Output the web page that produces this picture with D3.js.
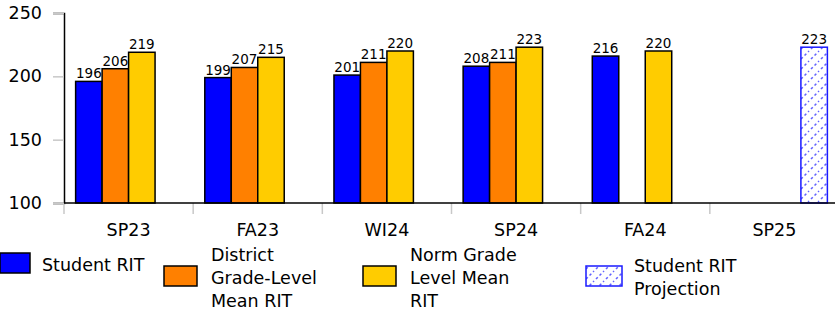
<!DOCTYPE html>
<html>
<head>
<meta charset="utf-8">
<script src="https://cdn.jsdelivr.net/npm/d3@7"></script>
<style>
  body { margin: 0; background: #fff; }
  text { font-family: "DejaVu Sans", sans-serif; fill: #000; }
</style>
</head>
<body>
<div id="chart"></div>
<script>
// data
const terms = ["SP23", "FA23", "WI24", "SP24", "FA24", "SP25"];
const studentRit = [196, 199, 201, 208, 216, null];
const districtMean = [206, 207, 211, 211, null, null];
const normMean = [219, 215, 220, 223, 220, null];
const projection = [null, null, null, null, null, 223];
const yTicks = [100, 150, 200, 250];

const series = [
  { key: "student", values: studentRit, fill: "#0000ff", stroke: "#000", label: ["Student RIT"] },
  { key: "district", values: districtMean, fill: "#ff8000", stroke: "#000", label: ["District", "Grade-Level", "Mean RIT"] },
  { key: "norm", values: normMean, fill: "#ffcc00", stroke: "#000", label: ["Norm Grade", "Level Mean", "RIT"] },
  { key: "proj", values: projection, fill: "url(#hatch)", stroke: "#1a1aff", label: ["Student RIT", "Projection"] }
];
const legendX = [0, 163, 362, 585];

const width = 835, height = 309;
const margin = { top: 13, left: 64, bottom: 106 };
const plotRight = 839;
const fontSize = "17.5px";

const svg = d3.select("#chart").append("svg")
  .attr("width", width)
  .attr("height", height);

const defs = svg.append("defs");
const pat = defs.append("pattern")
  .attr("id", "hatch")
  .attr("patternUnits", "userSpaceOnUse")
  .attr("width", 10).attr("height", 10);
pat.append("rect").attr("width", 10).attr("height", 10).attr("fill", "#fff");
pat.append("line")
  .attr("x1", 1).attr("y1", 9).attr("x2", 9).attr("y2", 1)
  .attr("stroke", "#3a3aff").attr("stroke-width", 1.6)
  .attr("stroke-dasharray", "2.5,2.5").attr("opacity", 0.8);

const x = d3.scaleBand().domain(terms).range([margin.left, plotRight]).paddingInner(0.18).paddingOuter(0.09);
const xs = d3.scaleBand().domain(series.map(s => s.key)).range([0, x.bandwidth()]);
const y = d3.scaleLinear().domain([100, 250]).range([height - margin.bottom, margin.top]);

// y axis
const yAxis = svg.append("g").attr("transform", `translate(${margin.left},0)`)
  .call(d3.axisLeft(y).tickValues(yTicks).tickSize(11).tickPadding(11));
yAxis.select(".domain").attr("stroke", "#000").attr("stroke-width", 1.5);
yAxis.selectAll(".tick line").attr("stroke", "#c8c8c8").attr("stroke-width", 1.5);
yAxis.selectAll(".tick text").style("font-size", fontSize).attr("font-family", "DejaVu Sans");

// x separators
const step = x.step();
const seps = d3.range(terms.length).map(i => margin.left + i * step);
svg.append("g").selectAll("line").data(seps).join("line")
  .attr("x1", d => d).attr("x2", d => d)
  .attr("y1", y(100)).attr("y2", y(100) + 11)
  .attr("stroke", "#c8c8c8").attr("stroke-width", 1.5);

// x labels
svg.append("g").selectAll("text").data(terms).join("text")
  .attr("x", d => margin.left + terms.indexOf(d) * step + step / 2)
  .attr("y", y(100) + 33)
  .attr("text-anchor", "middle")
  .style("font-size", fontSize)
  .text(d => d);

// bars
series.forEach(s => {
  const pts = terms.map((t, i) => ({ t, v: s.values[i] })).filter(d => d.v != null);
  const g = svg.append("g");
  g.selectAll("rect").data(pts).join("rect")
    .attr("x", d => x(d.t) + xs(s.key))
    .attr("y", d => y(d.v))
    .attr("width", xs.bandwidth())
    .attr("height", d => y(100) - y(d.v))
    .attr("fill", s.fill)
    .attr("stroke", s.stroke)
    .attr("stroke-width", 1.5);
  g.selectAll("text").data(pts).join("text")
    .attr("x", d => x(d.t) + xs(s.key) + xs.bandwidth() / 2)
    .attr("y", d => y(d.v) - 3)
    .attr("text-anchor", "middle")
    .style("font-size", "13.5px")
    .text(d => d.v);
});

// x axis line
svg.append("line")
  .attr("x1", margin.left).attr("x2", width)
  .attr("y1", y(100)).attr("y2", y(100))
  .attr("stroke", "#000").attr("stroke-width", 1.5);

// legend
const lineH = 23;
const legendMid = 277;
series.forEach((s, i) => {
  const g = svg.append("g").attr("transform", `translate(${legendX[i]},0)`);
  const n = s.label.length;
  const mid = i === 0 ? 264 : legendMid;
  const swW = i === 3 ? 36 : 33;
  g.append("rect")
    .attr("x", i === 0 ? 0 : 1).attr("y", mid - 11)
    .attr("width", i === 0 ? 30 : swW).attr("height", 20)
    .attr("fill", s.fill).attr("stroke", s.stroke).attr("stroke-width", 1.5);
  const tx = i === 0 ? 42 : 48;
  g.selectAll("text").data(s.label).join("text")
    .attr("x", tx + (i === 3 ? 1 : 0))
    .attr("y", (d, j) => mid + (j - (n - 1) / 2) * lineH + 6.5)
    .style("font-size", fontSize)
    .text(d => d);
});
</script>
</body>
</html>
